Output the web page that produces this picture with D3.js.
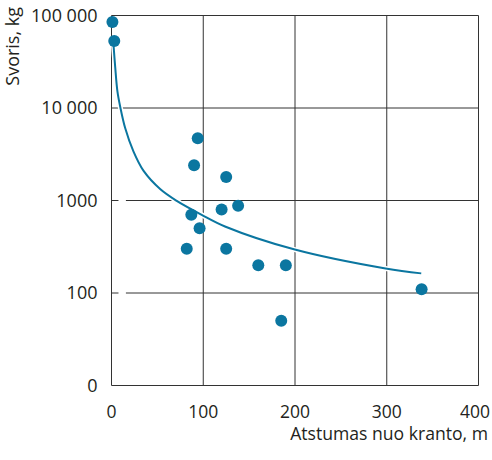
<!DOCTYPE html>
<html>
<head>
<meta charset="utf-8">
<script src="https://cdn.jsdelivr.net/npm/d3@7"></script>
<style>
  body { margin: 0; background: #fff; }
  text { font-family: "Open Sans", sans-serif; fill: #231f20; }
</style>
</head>
<body>
<svg id="chart"></svg>
<script>
// measured points: distance from shore (m) and weight (kg)
var distances = [1, 3, 94, 90, 125, 120, 138, 87, 96, 82, 125, 160, 190, 185, 338];
var weights = [85000, 53000, 4700, 2400, 1800, 800, 880, 700, 500, 300, 300, 200, 200, 50, 110];

// trend curve
var curveX = [2.2, 4, 6.5, 9.5, 14.9, 23.9, 34.8, 53, 71.1, 98.3, 123.7, 199.8, 298.8, 337.6];
var curveY = [48000, 28000, 15000, 10300, 6070, 3390, 2100, 1330, 990, 700, 524, 295, 184, 163];

var xTicks = [0, 100, 200, 300, 400];
var yTicks = [10, 100, 1000, 10000, 100000];
var yTickLabels = ["0", "100", "1000", "10 000", "100 000"];

var w = 492;
var h = 460;
var margin = { top: 15.5, bottom: 74.5, left: 111.5, right: 13.5 };
var color = "#0b76a0";

var svg = d3.select("#chart")
  .attr("width", w)
  .attr("height", h);

var xScale = d3.scaleLinear()
  .domain([0, 400])
  .range([margin.left, w - margin.right]);

var yScale = d3.scaleLog()
  .domain([10, 100000])
  .range([h - margin.bottom, margin.top]);

// grid
var grid = svg.append("g")
  .attr("stroke", "#333")
  .attr("stroke-width", 1);

grid.selectAll("line.v")
  .data(xTicks)
  .enter()
  .append("line")
  .attr("x1", function(d) { return xScale(d); })
  .attr("x2", function(d) { return xScale(d); })
  .attr("y1", yScale(100000))
  .attr("y2", yScale(10));

grid.selectAll("line.h")
  .data(yTicks)
  .enter()
  .append("line")
  .attr("x1", xScale(0))
  .attr("x2", xScale(400))
  .attr("y1", function(d) { return yScale(d); })
  .attr("y2", function(d) { return yScale(d); });

// small white gaps in the grid lines, as in the original print
svg.selectAll("line.gap")
  .data([100, 1000])
  .enter()
  .append("line")
  .attr("stroke", "#fff")
  .attr("stroke-width", 3)
  .attr("x1", xScale(7.6))
  .attr("x2", xScale(15.7))
  .attr("y1", function(d) { return yScale(d); })
  .attr("y2", function(d) { return yScale(d); });

// tick labels (the last one is pulled in so it fits the page)
svg.selectAll("text.xt")
  .data(xTicks)
  .enter()
  .append("text")
  .attr("x", function(d, i) { return i === xTicks.length - 1 ? w - 2 : xScale(d); })
  .attr("y", yScale(10) + 32)
  .attr("text-anchor", function(d, i) { return i === xTicks.length - 1 ? "end" : "middle"; })
  .style("font-size", "17.5px")
  .text(function(d) { return d; });

svg.selectAll("text.yt")
  .data(yTicks)
  .enter()
  .append("text")
  .attr("x", margin.left - 14)
  .attr("y", function(d) { return yScale(d); })
  .attr("dy", "0.36em")
  .attr("text-anchor", "end")
  .style("font-size", "18px")
  .text(function(d, i) { return yTickLabels[i]; });

// axis titles
svg.append("text")
  .attr("x", 488)
  .attr("y", 440)
  .attr("text-anchor", "end")
  .style("font-size", "17.6px")
  .text("Atstumas nuo kranto, m");

svg.append("text")
  .attr("transform", "translate(19,7) rotate(-90)")
  .attr("text-anchor", "end")
  .style("font-size", "18px")
  .text("Svoris, kg");

// trend curve, with a white knock-out under it like the print
var line = d3.line()
  .x(function(d) { return xScale(d[0]); })
  .y(function(d) { return yScale(d[1]); })
  .curve(d3.curveCatmullRom.alpha(0.5));

var curveData = d3.zip(curveX, curveY);

svg.append("path")
  .datum(curveData)
  .attr("fill", "none")
  .attr("stroke", "#fff")
  .attr("stroke-width", 5)
  .attr("d", line);

svg.append("path")
  .datum(curveData)
  .attr("fill", "none")
  .attr("stroke", color)
  .attr("stroke-width", 2)
  .attr("d", line);

// points
svg.selectAll("circle")
  .data(d3.zip(distances, weights))
  .enter()
  .append("circle")
  .attr("cx", function(d) { return xScale(d[0]); })
  .attr("cy", function(d) { return yScale(d[1]); })
  .attr("r", 6)
  .attr("fill", color);
</script>
</body>
</html>
